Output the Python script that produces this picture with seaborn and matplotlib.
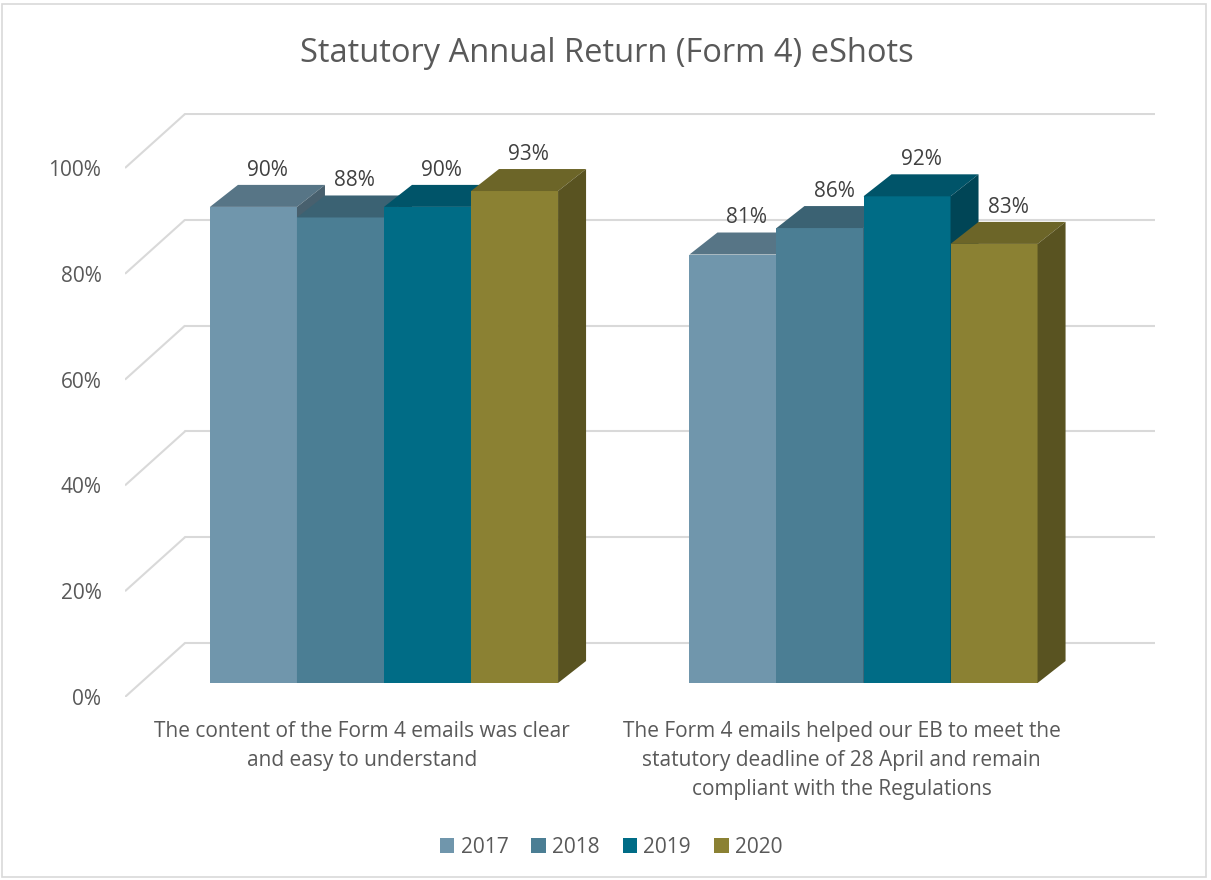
import matplotlib
matplotlib.use("Agg")
import numpy as np
import pandas as pd
import seaborn as sns
import matplotlib.pyplot as plt
import matplotlib.colors as mcolors
from matplotlib.patches import Polygon, Rectangle

# data
questions = [
    "The content of the Form 4 emails was clear\nand easy to understand",
    "The Form 4 emails helped our EB to meet the\nstatutory deadline of 28 April and remain\ncompliant with the Regulations",
]
years = ["2017", "2018", "2019", "2020"]
scores_2017 = [90, 81]
scores_2018 = [88, 86]
scores_2019 = [90, 92]
scores_2020 = [93, 83]
colors = ["#7096AC", "#4B7E94", "#006C86", "#8B8133"]
y_ticks = [0, 20, 40, 60, 80, 100]

df = pd.DataFrame({
    "question": questions * 4,
    "year": [y for y in years for _ in questions],
    "score": scores_2017 + scores_2018 + scores_2019 + scores_2020,
})

sns.set_style("white")
plt.rcParams["font.family"] = ["Open Sans", "DejaVu Sans"]
TXT = "#595959"

W, H = 1211, 880
fig = plt.figure(figsize=(W / 100, H / 100), dpi=100)

# layout in pixels (3d look of the excel chart)
ax_l, ax_r, ax_t, ax_b = 125, 1155, 113, 697
ax = fig.add_axes([ax_l / W, (H - ax_b) / H, (ax_r - ax_l) / W, (ax_b - ax_t) / H])
g0, gstep = 384, 479.5      # px of first group centre, px per category
y0, ystep = 683, 5.29       # px of bar baseline, px per percent
px_x = lambda px: (px - g0) / gstep
px_y = lambda py: (y0 - py) / ystep

sns.barplot(data=df, x="question", y="score", hue="year", hue_order=years,
            palette=colors, saturation=1, width=0.726, linewidth=0, ax=ax)
ax.set_xlim(px_x(ax_l), px_x(ax_r))
ax.set_ylim(px_y(ax_b), px_y(ax_t))

# walls / gridlines
front_off = px_y(ax_b)            # front edge offset (data units)
back_x = px_x(185)
back_off = (y0 - 643) / ystep
grid_c = "#D9D9D9"
for k in y_ticks:
    ax.plot([px_x(ax_l), back_x], [k + front_off, k + back_off], color=grid_c, lw=1.5, zorder=1,
            solid_capstyle="butt")
    ax.plot([back_x, px_x(ax_r)], [k + back_off, k + back_off], color=grid_c, lw=1.5, zorder=1)

# 3d bar faces
dx = 28 / gstep
dy = 22 / ystep
bars = [p for p in ax.patches if p.get_height() > 0]
bars.sort(key=lambda p: p.get_x())
for i, p in enumerate(bars):
    x0 = p.get_x()
    x1 = x0 + p.get_width()
    h = p.get_height()
    c = np.array(mcolors.to_rgb(p.get_facecolor()))
    p.set_zorder(3 + i)
    top = Polygon([(x0, h), (x0 + dx, h + dy), (x1 + dx, h + dy), (x1, h)],
                  closed=True, fc=c * 0.78, ec="none", zorder=3 + i)
    side = Polygon([(x1, 0), (x1 + dx, dy), (x1 + dx, h + dy), (x1, h)],
                   closed=True, fc=c * 0.64, ec="none", zorder=3 + i)
    ax.add_patch(top)
    ax.add_patch(side)
    ax.annotate(f"{h:.0f}%", ((x0 + x1) / 2 + dx / 2, h + dy), xytext=(0, 3),
                textcoords="offset points", ha="center", va="bottom",
                fontsize=15, color="#404040", zorder=30)

# axes text
ax.set_yticks([k + front_off for k in y_ticks], [f"{k}%" for k in y_ticks])
ax.set_xticks([0 - 22 / gstep, 1 - 22 / gstep], questions)
ax.tick_params(axis="y", length=0, pad=17, labelsize=15, labelcolor=TXT)
ax.tick_params(axis="x", length=0, pad=17, labelsize=15, labelcolor=TXT)
for t in ax.get_xticklabels():
    t.set_linespacing(1.5)
    t.set_multialignment("center")
ax.set_xlabel("")
ax.set_ylabel("")
sns.despine(ax=ax, left=True, bottom=True)

sns.move_legend(ax, "center", bbox_to_anchor=(611 / W, (H - 847) / H),
                bbox_transform=fig.transFigure, ncol=4, frameon=False, title=None,
                fontsize=15, handlelength=0.7, handleheight=0.7, handletextpad=0.3,
                columnspacing=1.1, labelcolor=TXT)

fig.text(607 / W, (H - 53) / H, "Statutory Annual Return (Form 4) eShots",
         ha="center", va="center", fontsize=23.5, color=TXT)

fig.add_artist(Rectangle((2 / W, 3 / H), 1204 / W, 873 / H, transform=fig.transFigure,
                         fill=False, ec="#D9D9D9", lw=1.2))

fig.savefig("out.png", dpi=100)
